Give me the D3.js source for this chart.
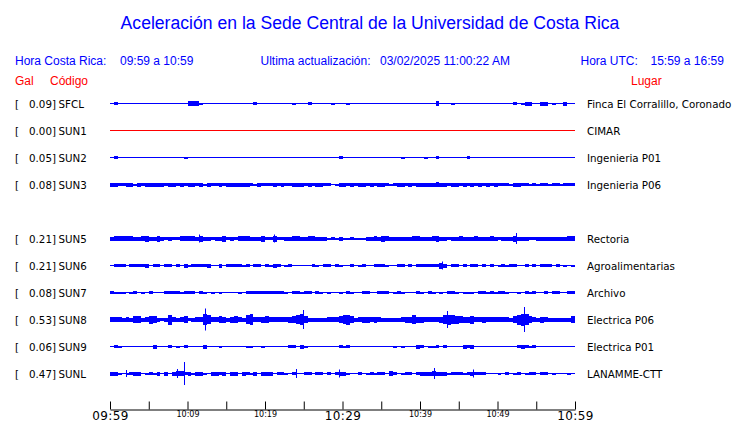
<!DOCTYPE html>
<html>
<head>
<meta charset="utf-8">
<script src="https://cdn.jsdelivr.net/npm/d3@7"></script>
<style>
  html, body { margin: 0; padding: 0; background: #fff; }
  svg { display: block; }
</style>
</head>
<body>
<div id="chart"></div>
<script>
// ---------------- DATA ----------------
const title = "Aceleración en la Sede Central de la Universidad de Costa Rica";
const horaLocal = "09:59 a 10:59";
const horaUTC = "15:59 a 16:59";
const ultimaAct = "03/02/2025 11:00:22 AM";

// row slots (SUN4 has no trace on this page)
const rowCodes = ["SFCL","SUN1","SUN2","SUN3","SUN4","SUN5","SUN6","SUN7","SUN8","SUN9","SUNL"];
const stations = ["SFCL","SUN1","SUN2","SUN3","SUN5","SUN6","SUN7","SUN8","SUN9","SUNL"];
const galValues = [0.09, 0.00, 0.05, 0.08, 0.21, 0.21, 0.08, 0.53, 0.06, 0.47];
const places = ["Finca El Corralillo, Coronado","CIMAR","Ingenieria P01","Ingenieria P06",
  "Rectoria","Agroalimentarias","Archivo","Electrica P06","Electrica P01","LANAMME-CTT"];

// time axis
const startTime = "09:59", endTime = "10:59";
const tickTimes = ["09:59","10:04","10:09","10:14","10:19","10:24","10:29","10:34","10:39","10:44","10:49","10:54","10:59"];
const majorLabels = ["09:59","10:29","10:59"];
const minorLabels = ["10:09","10:19","10:39","10:49"];

// amplitude envelope per 30-second bin (120 bins over the hour)
const env_SFCL = [
  0,1,0,0,0,0,0,0,0,0, 0,0,0,0,0,0,0,0,0,0,
  2,2,2,.5,0,0,0,0,0,0, 0,0,0,0,0,0,0,1,0,0,
  0,0,0,0,0,0,0,.5,0,0, 0,1,0,0,0,0,0,.5,0,0,
  0,.5,0,0,0,0,0,0,0,0, 0,0,0,0,0,0,0,0,0,0,
  0,0,0,0,2,0,0,0,.5,0, 0,0,0,0,0,0,0,0,0,0,
  0,0,0,0,1,0,.5,1.5,1.5,0, 0,1.5,1.5,0,.5,0,0,1.5,0,0];
const env_SUN1 = [
  0,0,0,0,0,0,0,0,0,0, 0,0,0,0,0,0,0,0,0,0,
  0,0,0,0,0,0,0,0,0,0, 0,0,0,0,0,0,0,0,0,0,
  0,0,0,0,0,0,0,0,0,0, 0,0,0,0,0,0,0,0,0,0,
  0,0,0,0,0,0,0,0,0,0, 0,0,0,0,0,0,0,0,0,0,
  0,0,0,0,0,0,0,0,0,0, 0,0,0,0,0,0,0,0,0,0,
  0,0,0,0,0,0,0,0,0,0, 0,0,0,0,0,0,0,0,0,0];
const env_SUN2 = [
  0,1,0,0,0,0,0,0,0,0, 0,0,0,0,0,0,0,0,0,.5,
  0,0,0,0,0,0,0,0,0,0, 0,0,0,0,0,0,0,0,0,0,
  0,0,0,0,0,0,0,0,0,0, 0,0,0,0,0,0,0,0,0,1,
  0,0,0,0,0,0,0,0,0,0, 0,0,0,0,0,.5,0,0,0,0,
  0,.5,0,0,1,0,0,0,0,0, 0,0,1,0,0,0,0,0,0,0,
  0,0,0,0,0,0,0,0,0,0, 0,0,0,0,0,0,0,0,0,0];
const env_SUN3 = [
  1.5,1.5,1,1,1.5,1.5,.5,1.5,1,1.5, 1.5,1.5,1.5,1.5,1,1.5,1.5,1,1.5,1,
  1.5,1.5,1,1.5,.5,1.5,1,1,1.5,1, 1.5,1.5,1.5,1.5,1.5,1.5,1,.5,1.5,1,
  1,1,1.5,1,1.5,1,1,1.5,1.5,1.5, 1,1.5,1,1.5,1.5,1,1,0,.5,1.5,
  1.5,1,1.5,1,1.5,1.5,1,1.5,1,1.5, 1.5,1,.5,1,1.5,1.5,1,1.5,1,1.5,
  1.5,1.5,1.5,1.5,2,1.5,1.5,1,1.5,1.5, 1,1.5,1,1.5,1,1.5,1,1.5,1,1.5,
  1,1,1,.5,1.5,1.5,1,1,.5,1, .5,1,1,.5,1,1,.5,1,1,1];
const env_SUN5 = [
  1.5,2,2,2,2,2,1.5,1.5,2,2.5, 1.5,1.5,2.5,1.5,1,1.5,1,1,2,2,
  2,2,1.5,2.5,1.5,1.5,1,1.5,1.5,2.5, 1,1.5,1,2,2,2,1.5,1.5,1.5,2.5,
  1,1,2.5,1,1,1.5,1.5,2,2,1.5, 1.5,2,2,1.5,1.5,1.5,.5,1,.5,1.5,
  .5,.5,1,.5,.5,.5,1.5,1.5,2,1.5, 2.5,2,1.5,1.5,1.5,1.5,1.5,1.5,2,2,
  1.5,1.5,1.5,2,2.5,1.5,1.5,1,1.5,1.5, 2,1.5,1.5,1.5,2,1.5,1.5,1.5,2,1.5,
  1,1.5,1.5,1.5,2.5,1.5,1.5,1.5,1,1, 1.5,1.5,1.5,1.5,1.5,1.5,1.5,1.5,2,2];
const env_SUN6 = [
  0,1,1,1,0,1,1,1,1,1.5, 0,1,1,0,1,1,0,1,0,1.5,
  .5,1,1,1,1,1.5,0,0,1.5,0, 1,1,1,1,.5,1,0,1,1,0,
  1,.5,1.5,1,0,.5,1,0,0,0, 0,0,1,.5,0,1,1,0,1,.5,
  0,0,1,0,.5,1,0,0,1,1, 1,.5,0,0,1,1,0,1,0,1,
  1,1,1,1,1,2.5,1.5,0,1,1, 0,1,0,1,1,0,1,0,1,0,
  .5,1,.5,1,1,0,0,1,0,1, 0,1,1,1,0,1,0,.5,0,.5];
const env_SUN7 = [
  1,.5,.5,.5,0,.5,1,0,.5,0, 1,0,0,0,1,1,1,1,.5,1,
  1,1,0,1,.5,0,.5,0,.5,0, 0,0,0,.5,0,1,1,1,1,1,
  1,1,1,1,1,.5,0,1,1,.5, 1,1,0,1,.5,0,.5,0,0,.5,
  0,1,.5,0,0,1,1,0,0,1, 1,1,0,.5,1,.5,0,0,0,1,
  .5,0,1,.5,0,.5,0,1,1,.5, 0,.5,.5,.5,0,1,1,.5,1,.5,
  1,1,.5,0,0,.5,0,1,.5,1, 0,0,1,0,1,1,0,0,1,1];
const env_SUN8 = [
  2,2,2,1.5,2,1.5,3,3,1.5,2, 3.5,3,1.5,1,1.5,4.5,2,1.5,2,3,
  1,1.5,2,2,5,4,2,2,3,2.5, 1.5,2.5,3,2,1.5,4,5,2,2,2.5,
  3,2,2,2,2,2,2.5,3,4,5, 3,1.5,1.5,1.5,1.5,1.5,2,2,2,3,
  4,4.5,3,1.5,2,2.5,2.5,2,2.5,2, 1.5,1.5,1.5,1.5,1.5,2,2.5,2.5,4,2.5,
  2.5,2,2,2,2,2.5,4,4.5,4,3.5, 3,2.5,2.5,3.5,2,2,2.5,2,2,2,
  2,2,2,1.5,3,4.5,5.5,5,3,2, 1.5,2.5,2,1.5,1.5,1.5,1.5,1.5,1.5,3];
const env_SUN9 = [
  0,1,.5,0,0,0,0,0,0,0, 0,1.5,0,0,0,1,0,.5,0,1,
  0,0,0,0,1.5,0,0,0,.5,0, 0,0,0,0,0,.5,.5,0,0,.5,
  0,0,0,0,0,0,1,1,0,1.5, .5,0,0,0,0,0,0,0,0,1,
  .5,1,0,0,0,0,0,0,0,0, 0,0,0,.5,0,.5,0,0,0,1.5,
  1,0,.5,.5,1,0,1,0,0,0, 0,1.5,1,1.5,0,0,0,0,0,0,
  0,0,0,0,0,1,1.5,1,.5,1, 0,0,0,0,0,0,0,0,0,0];
const env_SUNL = [
  1.5,1.5,.5,0,.5,1,1.5,1.5,0,.5, 1,.5,1.5,0,1.5,0,1.5,2,2,1,
  1.5,.5,1.5,1.5,.5,0,1.5,1.5,1,1.5, 0,1.5,1.5,0,1.5,1,.5,1.5,0,1.5,
  1.5,1.5,0,1,1,.5,0,1,0,0, 1,1,0,1,1,0,1,0,1,1.5,
  1.5,.5,0,0,1,0,.5,1,.5,1, 1,0,2,1,0,.5,1,1,0,1,
  1.5,1.5,1.5,2,1.5,1.5,1.5,.5,1,1, 1,.5,1,1.5,1,1,1,0,0,0,
  .5,0,1,0,.5,1,0,.5,1,1, 0,1,1,0,.5,0,0,0,.5,0];

// thin tall spikes: [minutes after start, amplitude]
const spikes_SUN5 = [[11.5,3.5],[21.2,3.5],[52.4,5]];
const spikes_SUN6 = [[42.8,3.5]];
const spikes_SUN8 = [[12.3,10.5],[24.9,9],[43.5,8],[53.4,12]];
const spikes_SUNL = [[2.0,3],[8.6,4],[9.5,11],[24.0,4],[29.6,3.5],[41.8,5],[46.8,3.5]];

const envelopes = {SFCL: env_SFCL, SUN1: env_SUN1, SUN2: env_SUN2, SUN3: env_SUN3, SUN5: env_SUN5,
  SUN6: env_SUN6, SUN7: env_SUN7, SUN8: env_SUN8, SUN9: env_SUN9, SUNL: env_SUNL};
const spikes = {SUN5: spikes_SUN5, SUN6: spikes_SUN6, SUN8: spikes_SUN8, SUNL: spikes_SUNL};

// ---------------- DRAW ----------------
const W = 740, H = 423;
const BLUE = "#0000ff", RED = "#ff0000";
const sans = "'Liberation Sans', Arial, Helvetica, sans-serif";
const dv = "'DejaVu Sans', 'Bitstream Vera Sans', sans-serif";

const svg = d3.select("#chart").append("svg").attr("width", W).attr("height", H)
  .style("background", "#fff");

const parseT = d3.timeParse("%H:%M");
const t0 = parseT(startTime), t1 = parseT(endTime);
const x = d3.scaleTime().domain([t0, t1]).range([110, 575]);
const y = d3.scalePoint().domain(rowCodes).range([103.5, 373.5]);
const amp = d3.scaleLinear().domain([0, 12]).range([0, 12]);

// title & header
svg.append("text").attr("x", 370).attr("y", 29).attr("text-anchor", "middle")
  .style("font-family", sans).style("font-size", "17.6px").attr("fill", BLUE).text(title);

const hdr = [
  [15, "Hora Costa Rica:"], [120, horaLocal],
  [260.5, "Ultima actualización:"], [380, ultimaAct],
  [580.5, "Hora UTC:"], [650.5, horaUTC]
];
svg.append("g").selectAll("text").data(hdr).join("text")
  .attr("x", d => d[0]).attr("y", 65)
  .style("font-family", sans).style("font-size", "12px").attr("fill", BLUE)
  .text(d => d[1]);

const red = [[15, "Gal"], [50, "Código"], [631, "Lugar"]];
svg.append("g").selectAll("text").data(red).join("text")
  .attr("x", d => d[0]).attr("y", 84.5)
  .style("font-family", sans).style("font-size", "12px").attr("fill", RED)
  .text(d => d[1]);

// rows
const rows = svg.append("g").selectAll("g").data(stations).join("g")
  .attr("transform", d => `translate(0,${y(d)})`);

rows.append("text").attr("x", 15).attr("y", 4)
  .style("font-family", dv).style("font-size", "10.3px").attr("fill", "#000").text("[");
rows.append("text").attr("x", 56).attr("y", 4).attr("text-anchor", "end")
  .style("font-family", dv).style("font-size", "10.3px").attr("fill", "#000")
  .text((d, i) => galValues[i].toFixed(2) + "]");
rows.append("text").attr("x", 58.5).attr("y", 4)
  .style("font-family", dv).style("font-size", "10.3px").attr("fill", "#000").text(d => d);
rows.append("text").attr("x", 587).attr("y", 4)
  .style("font-family", dv).style("font-size", "10.3px").attr("fill", "#000")
  .text((d, i) => places[i]);

// baseline traces
rows.append("line")
  .attr("x1", x(t0)).attr("x2", x(t1)).attr("y1", 0).attr("y2", 0)
  .attr("stroke", (d, i) => galValues[i] === 0 ? RED : BLUE).attr("stroke-width", 1);

// envelope blocks
rows.each(function(code, i) {
  const g = d3.select(this);
  const color = galValues[i] === 0 ? RED : BLUE;
  const bins = envelopes[code].map((a, k) => ({
    a, s: d3.timeSecond.offset(t0, k * 30), e: d3.timeSecond.offset(t0, (k + 1) * 30)
  })).filter(b => b.a > 0);
  g.selectAll("rect.env").data(bins).join("rect").attr("class", "env")
    .attr("x", b => x(b.s)).attr("width", b => x(b.e) - x(b.s))
    .attr("y", b => -0.5 - amp(b.a)).attr("height", b => 1 + 2 * amp(b.a))
    .attr("fill", color).attr("shape-rendering", "crispEdges");
  const sp = spikes[code] || [];
  g.selectAll("line.spk").data(sp).join("line").attr("class", "spk")
    .attr("x1", s => Math.round(x(d3.timeSecond.offset(t0, s[0] * 60))) + 0.5)
    .attr("x2", s => Math.round(x(d3.timeSecond.offset(t0, s[0] * 60))) + 0.5)
    .attr("y1", s => -0.5 - amp(s[1])).attr("y2", s => 0.5 + amp(s[1]))
    .attr("stroke", color).attr("stroke-width", 1);
});

// time axis
const fmt = d3.timeFormat("%H:%M");
const tickVals = tickTimes.map(parseT);
const axis = d3.axisBottom(x).tickValues(tickVals)
  .tickSizeInner(-8).tickSizeOuter(0).tickPadding(2)
  .tickFormat(d => {
    const s = fmt(d);
    return (majorLabels.includes(s) || minorLabels.includes(s)) ? s : "";
  });
const ag = svg.append("g").attr("transform", "translate(0,409.5)").call(axis);
ag.select(".domain").attr("stroke", "#000").attr("stroke-width", 1);
ag.selectAll(".tick line").attr("stroke", "#000");
ag.selectAll(".tick text").attr("fill", "#000")
  .style("font-family", dv)
  .style("letter-spacing", d => majorLabels.includes(fmt(d)) ? "0.4px" : "0px")
  .style("font-size", d => majorLabels.includes(fmt(d)) ? "12px" : "8px");
</script>
</body>
</html>
